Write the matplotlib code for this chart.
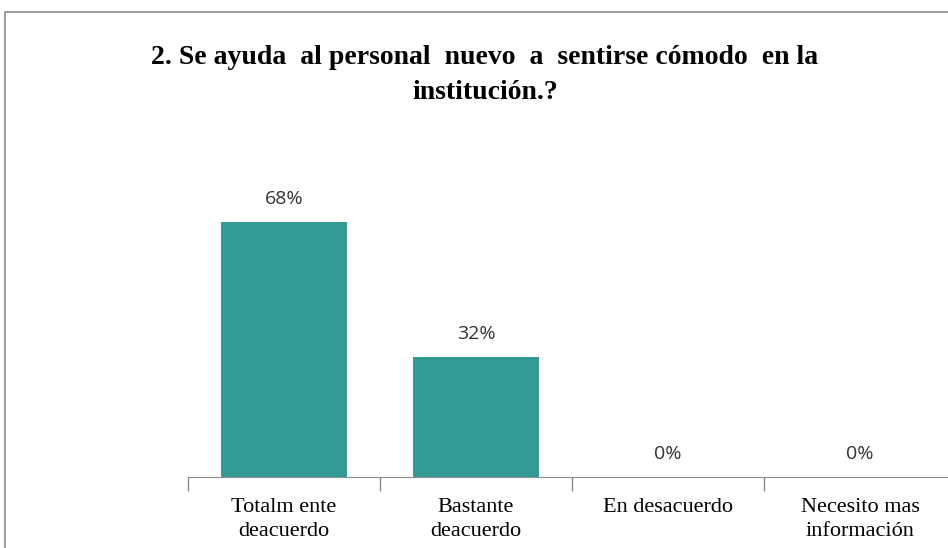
import matplotlib.pyplot as plt
from matplotlib.patches import Rectangle

categorias = ["Totalm ente\ndeacuerdo", "Bastante\ndeacuerdo", "En desacuerdo", "Necesito mas\ninformación"]
valores = [0.68, 0.32, 0.0, 0.0]
etiquetas = ["68%", "32%", "0%", "0%"]

W, H = 948, 548
fig = plt.figure(figsize=(W / 100, H / 100), dpi=100)

# gray frame of the chart area (right and bottom cut off)
fig.patches.append(Rectangle((5 / W, -0.2), 1.2, 1.2 - 12 / H, transform=fig.transFigure,
                             fill=False, edgecolor="#8c8c8c", lw=1.2))

ax = fig.add_axes([188 / W, 1 - 477 / H, 768 / W, 300 / H])
x = list(range(len(categorias)))
ax.bar(x, valores, width=0.656, color="#339b93")
ax.set_xlim(-0.5, 3.5)
ax.set_ylim(0, 0.8)

for xi, v, t in zip(x, valores, etiquetas):
    ax.text(xi, v + 0.062, t, ha="center", va="center", fontsize=14,
            family="Open Sans", color="#333333")

for s in ["top", "left", "right"]:
    ax.spines[s].set_visible(False)
ax.spines["bottom"].set_color("#8c8c8c")
ax.set_yticks([])
ax.set_xticks([i - 0.5 for i in range(len(categorias) + 1)], minor=False)
ax.set_xticklabels([])
ax.tick_params(axis="x", length=10, color="#8c8c8c", width=1)
ax.set_xticks(x, minor=True)
ax.set_xticklabels(categorias, minor=True, fontsize=16, family="Liberation Serif",
                   linespacing=1.4)
ax.tick_params(axis="x", which="minor", length=0, pad=15)

fig.text(485 / W, 1 - 75 / H, "2. Se ayuda  al personal  nuevo  a  sentirse cómodo  en la\ninstitución.?",
         ha="center", va="center", fontsize=20, fontweight="bold",
         family="Liberation Serif", linespacing=1.5)

fig.savefig("out.png", dpi=100)
